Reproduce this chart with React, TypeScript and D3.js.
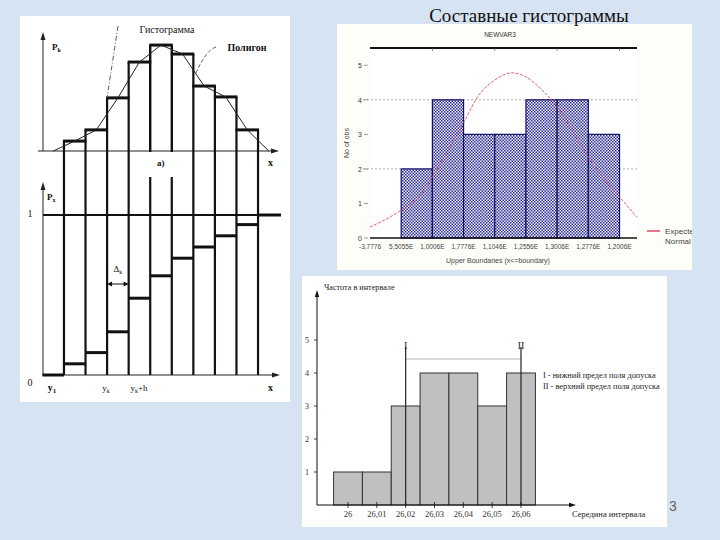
import * as React from 'react';
import * as d3 from 'd3';

// ---- left diagram (schematic histogram / polygon / cumulative) ----
const leftHist = [0.031, 0.066, 0.166, 0.278, 0.331, 0.303, 0.203, 0.169, 0.066];
const leftCum = [0, 0.07, 0.14, 0.27, 0.48, 0.62, 0.73, 0.8, 0.87, 0.94, 1];

// ---- middle chart (STATISTICA style) ----
const midCounts = [0, 2, 4, 3, 3, 4, 4, 3];
const midTickLabels = ['-3,7776', '5,5055E', '1,0006E', '1,7776E', '1,1046E', '1,2556E', '1,3006E', '1,2776E', '1,2006E'];
const midYTicks = [0, 1, 2, 3, 4, 5];
const normX = [0, 1, 1.67, 2, 2.98, 3.46, 4.01, 4.55, 4.87, 5.51, 6, 6.48, 7, 7.53, 8, 8.56];
const normY = [0.32, 0.81, 1.3, 1.77, 3.3, 4.1, 4.58, 4.78, 4.72, 4.29, 3.8, 3.13, 2.35, 1.68, 1.19, 0.6];

// ---- bottom chart ----
const botMids = [26, 26.01, 26.02, 26.03, 26.04, 26.05, 26.06];
const botLabels = ['26', '26,01', '26,02', '26,03', '26,04', '26,05', '26,06'];
const botCounts = [1, 1, 3, 4, 4, 3, 4];
const botYTicks = [1, 2, 3, 4, 5];
const lowerLimit = 26.02;
const upperLimit = 26.06;

const serif = '"Liberation Serif", "DejaVu Serif", serif';
const sans = '"Liberation Sans", Arial, sans-serif';

function LeftDiagram() {
  const x = d3.scaleLinear().domain([0, 11]).range([42.4, 279.6]);
  const yTop = d3.scaleLinear().domain([0, 0.4]).range([151, 23]);
  const yBot = d3.scaleLinear().domain([0, 1]).range([375, 215]);

  const polyPts: [number, number][] = [[0.5, 0]];
  leftHist.forEach((v, i) => polyPts.push([i + 1.5, v]));
  polyPts.push([10.5, 0]);
  const polyLine = d3.line<[number, number]>().x(d => x(d[0])).y(d => yTop(d[1]));

  const edges = d3.range(1, 11);
  const edgeTop = (k: number) => {
    const a = k - 1 < leftHist.length ? leftHist[k - 1] : 0;
    const b = k - 2 >= 0 ? leftHist[k - 2] : 0;
    return yTop(Math.max(a, b));
  };

  return (
    <g>
      <rect x={20} y={16} width={270} height={386} fill="#fff" />
      {/* upper axes */}
      <line x1={43} x2={43} y1={37} y2={151} stroke="#222" strokeWidth={1} />
      <path d="M43,32 L40.5,40 L45.5,40 Z" fill="#222" />
      <line x1={38} x2={274} y1={151} y2={151} stroke="#222" strokeWidth={1.2} />
      <path d="M279,151 L271,148.5 L271,153.5 Z" fill="#222" />
      {/* vertical edges through both panels */}
      {edges.map(k => (
        k === 5 || k === 6 ? (
          <g key={k}>
            <line x1={x(k)} x2={x(k)} y1={edgeTop(k)} y2={152} stroke="#111" strokeWidth={2.4} />
            <line x1={x(k)} x2={x(k)} y1={177} y2={375} stroke="#111" strokeWidth={2.2} />
          </g>
        ) : (
          <line key={k} x1={x(k)} x2={x(k)} y1={edgeTop(k)} y2={375} stroke="#111" strokeWidth={2.2} />
        )
      ))}
      {/* histogram tops */}
      {leftHist.map((v, i) => (
        <line key={i} x1={x(i + 1) - 1} x2={x(i + 2) + 1} y1={yTop(v)} y2={yTop(v)} stroke="#111" strokeWidth={3} />
      ))}
      <path d={polyLine(polyPts) || ''} fill="none" stroke="#222" strokeWidth={1} />
      {/* annotations */}
      <text x={167} y={33} fontFamily={serif} fontSize={10} textAnchor="middle" fill="#111">Гистограмма</text>
      <line x1={118} y1={26} x2={107} y2={98} stroke="#333" strokeWidth={0.8} strokeDasharray="5,2,1,2" />
      <text x={247} y={51} fontFamily={serif} fontSize={10} fontWeight="bold" textAnchor="middle" fill="#111">Полигон</text>
      <path d="M216,47 Q206,50 195,75" fill="none" stroke="#333" strokeWidth={0.8} strokeDasharray="4,2" />
      <text x={52} y={50} fontFamily={serif} fontSize={9} fontWeight="bold" fill="#111">P<tspan fontSize={6} dy={2}>k</tspan></text>
      <text x={157} y={166} fontFamily={serif} fontSize={9} fontWeight="bold" fill="#111">a)</text>
      <text x={268} y={166} fontFamily={serif} fontSize={10} fontWeight="bold" fill="#111">x</text>

      {/* lower axes */}
      <line x1={43} x2={43} y1={188} y2={375} stroke="#222" strokeWidth={1} />
      <path d="M43,182 L40.5,190 L45.5,190 Z" fill="#222" />
      <line x1={43} x2={274} y1={375} y2={375} stroke="#222" strokeWidth={1.2} />
      <path d="M280,375 L272,372.5 L272,377.5 Z" fill="#222" />
      <line x1={43} x2={281} y1={yBot(1)} y2={yBot(1)} stroke="#111" strokeWidth={2} />
      {/* cumulative steps */}
      {leftCum.map((v, i) => (
        <line key={i} x1={x(i)} x2={i === 10 ? 281 : x(i + 1)} y1={yBot(v)} y2={yBot(v)} stroke="#111" strokeWidth={3} />
      ))}
      <text x={30} y={217} fontFamily={serif} fontSize={10} fill="#111" textAnchor="middle">1</text>
      <text x={47} y={200} fontFamily={serif} fontSize={9} fontWeight="bold" fill="#111">P<tspan fontSize={6} dy={2}>x</tspan></text>
      <text x={30} y={386} fontFamily={serif} fontSize={10} fill="#111" textAnchor="middle">0</text>
      <text x={52} y={391} fontFamily={serif} fontSize={10} fontWeight="bold" fill="#111" textAnchor="middle">y<tspan fontSize={7} dy={2}>1</tspan></text>
      <text x={106} y={391} fontFamily={serif} fontSize={9} fill="#111" textAnchor="middle">y<tspan fontSize={6} dy={2}>k</tspan></text>
      <text x={139} y={391} fontFamily={serif} fontSize={9} fill="#111" textAnchor="middle">y<tspan fontSize={6} dy={2}>k</tspan><tspan dy={-2}>+h</tspan></text>
      <text x={268} y={391} fontFamily={serif} fontSize={10} fontWeight="bold" fill="#111">x</text>
      {/* delta */}
      <line x1={x(3) + 2} x2={x(4) - 2} y1={284} y2={284} stroke="#111" strokeWidth={1} />
      <path d={`M${x(3)},284 l5,-2.5 l0,5 Z M${x(4)},284 l-5,-2.5 l0,5 Z`} fill="#111" />
      <text x={(x(3) + x(4)) / 2} y={272} fontFamily={serif} fontSize={9} fill="#111" textAnchor="middle">Δ<tspan fontSize={6} dy={2}>k</tspan></text>
    </g>
  );
}

function MiddleChart() {
  const x = d3.scaleLinear().domain([0, 8.56]).range([370, 637]);
  const y = d3.scaleLinear().domain([0, 5.5]).range([238, 48]);
  const normPts = normX.map((v, i) => [v, normY[i]] as [number, number]);
  const normLine = d3.line<[number, number]>().x(d => x(d[0])).y(d => y(d[1])).curve(d3.curveMonotoneX);

  return (
    <g>
      <defs>
        <pattern id="chk" width={3} height={3} patternUnits="userSpaceOnUse">
          <rect width={3} height={3} fill="#f4f4ff" />
          <rect x={0} y={0} width={1.5} height={1.5} fill="#2a2a9a" />
          <rect x={1.5} y={1.5} width={1.5} height={1.5} fill="#2a2a9a" />
        </pattern>
        <clipPath id="midclip">
          <rect x={337} y={24} width={355} height={246} />
        </clipPath>
      </defs>
      <rect x={337} y={24} width={355} height={246} fill="#fefef8" />
      <rect x={370} y={48} width={267} height={190} fill="#fff" />
      <text x={500} y={37} fontFamily={sans} fontSize={6.5} textAnchor="middle" fill="#333">NEWVAR3</text>
      {/* grid */}
      {[2, 4].map(t => (
        <line key={t} x1={363} x2={637} y1={y(t)} y2={y(t)} stroke="#999" strokeWidth={0.8} strokeDasharray="2,2" />
      ))}
      {midYTicks.map(t => (
        <g key={t}>
          <text x={360} y={y(t) + 3} fontFamily={sans} fontSize={7} fill="#333" textAnchor="middle">{t}</text>
          <line x1={364} x2={368} y1={y(t)} y2={y(t)} stroke="#555" strokeWidth={0.6} />
        </g>
      ))}
      <line x1={370} x2={637} y1={48} y2={48} stroke="#111" strokeWidth={1.8} />
      {[2, 4, 6, 8].map(k => (
        <line key={k} x1={x(k)} x2={x(k)} y1={48} y2={51} stroke="#555" strokeWidth={0.7} />
      ))}
      {/* bars */}
      {midCounts.map((c, i) => c > 0 && (
        <rect key={i} x={x(i)} y={y(c)} width={x(i + 1) - x(i)} height={y(0) - y(c)} fill="url(#chk)" stroke="#10106a" strokeWidth={1.2} />
      ))}
      <path d={normLine(normPts) || ''} fill="none" stroke="#e8485e" strokeWidth={1} strokeDasharray="3,1.5" opacity={0.9} />
      <line x1={370} x2={637} y1={238} y2={238} stroke="#111" strokeWidth={1.4} />
      {midTickLabels.map((l, i) => (
        <text key={i} x={x(i)} y={249} fontFamily={sans} fontSize={6.5} fill="#444" textAnchor="middle">{l}</text>
      ))}
      <text x={498} y={263} fontFamily={sans} fontSize={7} fill="#444" textAnchor="middle">Upper Boundaries (x&lt;=boundary)</text>
      <text transform="translate(349,143) rotate(-90)" fontFamily={sans} fontSize={7} fill="#444" textAnchor="middle">No of obs</text>
      <g clipPath="url(#midclip)">
        <line x1={647} x2={660} y1={231} y2={231} stroke="#d02040" strokeWidth={1.2} />
        <text x={665} y={234} fontFamily={sans} fontSize={8} fill="#444">Expected</text>
        <text x={665} y={244} fontFamily={sans} fontSize={8} fill="#444">Normal</text>
      </g>
    </g>
  );
}

function BottomChart() {
  const x = d3.scaleLinear().domain([26, 26.06]).range([348, 521]);
  const y = d3.scaleLinear().domain([0, 5]).range([505, 340]);
  const half = 0.005;

  return (
    <g>
      <rect x={302} y={276} width={365} height={251} fill="#fff" />
      {botCounts.map((c, i) => (
        <rect key={i} x={x(botMids[i] - half)} y={y(c)} width={x(botMids[i] + half) - x(botMids[i] - half)} height={y(0) - y(c)} fill="#c0c0c0" stroke="#333" strokeWidth={1} />
      ))}
      <line x1={x(lowerLimit)} x2={x(upperLimit)} y1={359} y2={359} stroke="#cfcfcf" strokeWidth={1.5} />
      {[lowerLimit, upperLimit].map((v, i) => (
        <g key={i}>
          <line x1={x(v)} x2={x(v)} y1={347} y2={505} stroke="#222" strokeWidth={1.2} />
          <text x={x(v)} y={349} fontFamily={serif} fontSize={10} fill="#222" textAnchor="middle">{i === 0 ? 'I' : 'II'}</text>
        </g>
      ))}
      {/* axes */}
      <line x1={317} x2={317} y1={296} y2={505} stroke="#111" strokeWidth={1} />
      <path d="M317,290 L314.8,297 L319.2,297 Z" fill="#111" />
      <line x1={317} x2={570} y1={505} y2={505} stroke="#111" strokeWidth={1} />
      <path d="M576,505 L569,502.8 L569,507.2 Z" fill="#111" />
      {botYTicks.map(t => (
        <g key={t}>
          <line x1={314} x2={317} y1={y(t)} y2={y(t)} stroke="#111" strokeWidth={0.8} />
          <text x={307} y={y(t) + 3} fontFamily={serif} fontSize={8} fill="#333" textAnchor="middle">{t}</text>
        </g>
      ))}
      {botMids.map((m, i) => (
        <g key={i}>
          <line x1={x(m)} x2={x(m)} y1={502} y2={508} stroke="#111" strokeWidth={0.8} />
          <text x={x(m)} y={517} fontFamily={serif} fontSize={8.5} fill="#333" textAnchor="middle">{botLabels[i]}</text>
        </g>
      ))}
      <text x={324} y={290} fontFamily={serif} fontSize={8.2} fill="#222">Частота в интервале</text>
      <text x={572} y={517} fontFamily={serif} fontSize={8.5} fill="#222">Середина интервала</text>
      <text x={543} y={378} fontFamily={serif} fontSize={8.3} fill="#222">I - нижний предел поля допуска</text>
      <text x={543} y={389} fontFamily={serif} fontSize={8.3} fill="#222">II - верхний предел поля допуска</text>
    </g>
  );
}

export default function App() {
  return (
    <div style={{ position: 'absolute', left: 0, top: 0 }}>
      <svg width={720} height={540} style={{ display: 'block' }}>
        <rect width={720} height={540} fill="#d6e3f3" />
        <LeftDiagram />
        <MiddleChart />
        <BottomChart />
        <text x={529} y={22} fontFamily={serif} fontSize={19} textAnchor="middle" fill="#111">Составные гистограммы</text>
        <text x={673} y={511} fontFamily={sans} fontSize={14} textAnchor="middle" fill="#666">3</text>
      </svg>
    </div>
  );
}
